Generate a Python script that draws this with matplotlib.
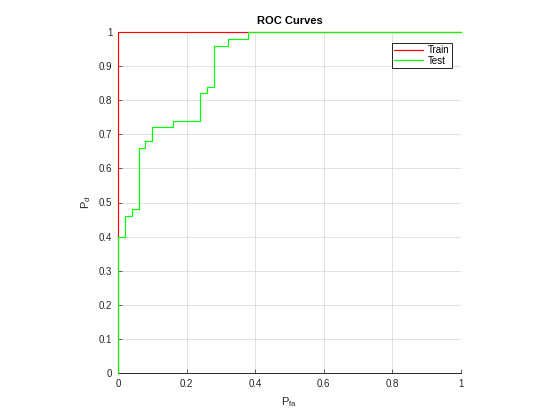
import matplotlib
matplotlib.use("Agg")
import matplotlib.pyplot as plt

# Data
train_pfa = [0.0, 0.0, 1.0]
train_pd = [0.0, 1.0, 1.0]

test_pfa = [0.0, 0.0, 0.02, 0.02, 0.04, 0.04, 0.06, 0.06, 0.08, 0.08, 0.10, 0.10,
            0.16, 0.16, 0.24, 0.24, 0.26, 0.26, 0.28, 0.28, 0.32, 0.32, 0.38, 0.38, 1.0]
test_pd = [0.0, 0.40, 0.40, 0.46, 0.46, 0.48, 0.48, 0.66, 0.66, 0.68, 0.68, 0.72,
           0.72, 0.74, 0.74, 0.82, 0.82, 0.84, 0.84, 0.96, 0.96, 0.98, 0.98, 1.0, 1.0]

xticks = [0, 0.2, 0.4, 0.6, 0.8, 1]
xticklabels = ["0", "0.2", "0.4", "0.6", "0.8", "1"]
yticks = [0, 0.1, 0.2, 0.3, 0.4, 0.5, 0.6, 0.7, 0.8, 0.9, 1]
yticklabels = ["0", "0.1", "0.2", "0.3", "0.4", "0.5", "0.6", "0.7", "0.8", "0.9", "1"]

plt.rcParams['font.family'] = ['Liberation Sans', 'DejaVu Sans']
plt.rcParams['mathtext.fontset'] = 'custom'
plt.rcParams['mathtext.rm'] = 'Liberation Sans'

fig = plt.figure(figsize=(5.6, 4.2), dpi=100)
ax = fig.add_axes([118/560, 1-373/420, 343/560, 341/420])

ax.plot(train_pfa, train_pd, color='#ff0000', lw=0.85, label='Train', zorder=4, clip_on=False)
ax.plot(test_pfa, test_pd, color='#00ff00', lw=0.85, label='Test', zorder=4, clip_on=False)

ax.set_xlim(0, 1)
ax.set_ylim(0, 1)
ax.set_xticks(xticks)
ax.set_xticklabels(xticklabels)
ax.set_yticks(yticks)
ax.set_yticklabels(yticklabels)
ax.tick_params(direction='in', length=3, width=0.5, labelsize=7, colors='#262626', pad=4)
ax.grid(True, color='#dcdcdc', lw=0.6)
ax.set_axisbelow(True)
ax.spines['top'].set_visible(False)
ax.spines['right'].set_visible(False)
for s in ('left', 'bottom'):
    ax.spines[s].set_linewidth(0.7)
    ax.spines[s].set_color('#262626')

ax.set_title('ROC Curves', fontsize=8, fontweight='bold', pad=6)
ax.set_xlabel(r'$\mathregular{P_{fa}}$', fontsize=8, color='#262626', labelpad=5)
ax.set_ylabel(r'$\mathregular{P_{d}}$', fontsize=8, color='#262626', labelpad=4)

leg = ax.legend(loc='upper right', bbox_to_anchor=(0.974, 0.968), borderaxespad=0,
                fontsize=7, fancybox=False,
                edgecolor='black', framealpha=1, handlelength=3.0, borderpad=0.25,
                labelspacing=0.05, handletextpad=0.5)
leg.get_frame().set_linewidth(0.6)
leg.set_zorder(5)

fig.savefig('out.png', dpi=100)
